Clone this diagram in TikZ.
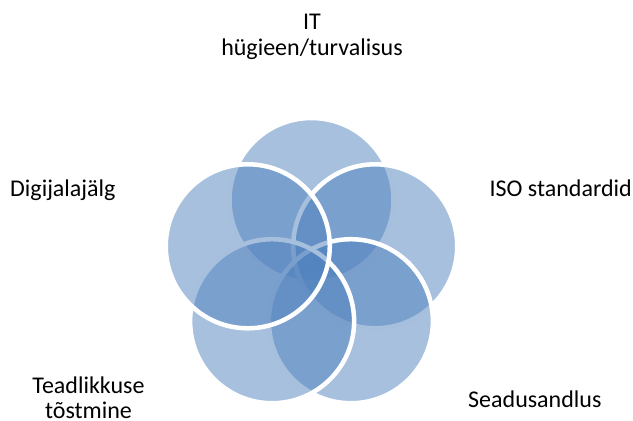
\documentclass[tikz,border=0pt]{standalone}
\usepackage{fontspec}
\setmainfont{Carlito}
\usetikzlibrary{calc}
\definecolor{accent}{HTML}{4F81BD}
\begin{document}
\begin{tikzpicture}[x=1pt,y=-1pt,
  petal/.style={circle, draw=white, line width=4.5pt, fill=accent,
    fill opacity=0.5, draw opacity=1, minimum size=164pt, inner sep=0pt},
  lbl/.style={font=\fontsize{24}{25.5}\selectfont, text=black, inner sep=0pt, align=center}]
\useasboundingbox (0,0) rectangle (633,421);
% five overlapping circles around a common centre, drawn clockwise from the top
\coordinate (c) at (311.5,267);
\def\ring{67}
\node[petal] (p1) at ($(c)+(0,-\ring)$) {};
\node[petal] (p2) at ($(c)+({\ring*cos(18)},{-\ring*sin(18)})$) {};
\node[petal] (p3) at ($(c)+({\ring*cos(-54)},{-\ring*sin(-54)})$) {};
\node[petal] (p4) at ($(c)+({\ring*cos(234)},{-\ring*sin(234)})$) {};
\node[petal] (p5) at ($(c)+({\ring*cos(162)},{-\ring*sin(162)})$) {};
% labels (base anchor of a two-line label sits on its last line)
\node[lbl, anchor=base] (t1) at (312,55) {IT\\hügieen/turvalisus};
\node[lbl, anchor=base west] (t5) at (10,196) {Digijalajälg};
\node[lbl, anchor=base east] (t2) at (632,196) {ISO standardid};
\node[lbl, anchor=base] (t4) at (88.5,418.5) {Teadlikkuse\\tõstmine};
\node[lbl, anchor=base west] (t3) at (468,407) {Seadusandlus};
\end{tikzpicture}
\end{document}
